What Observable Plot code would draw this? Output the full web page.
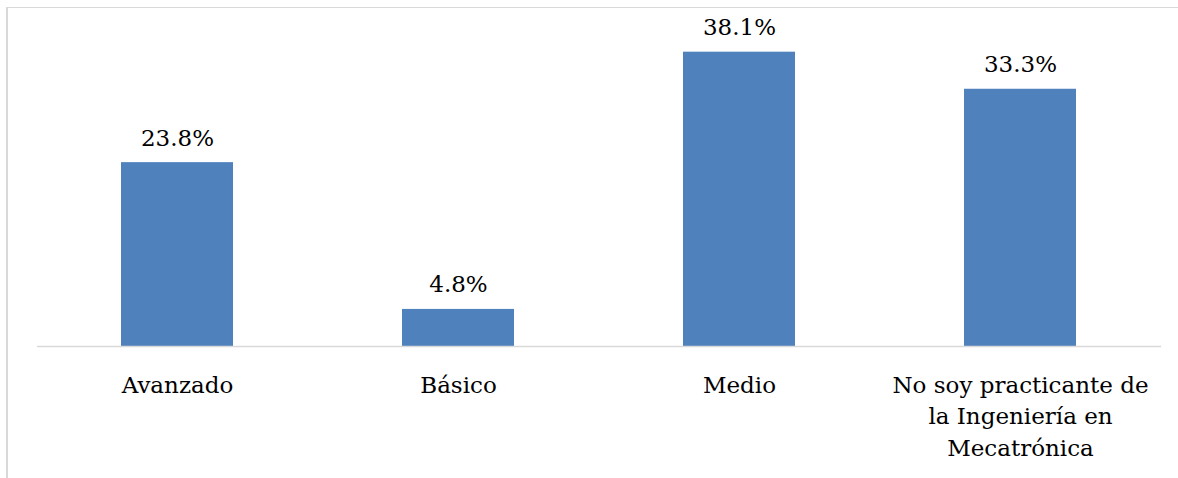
<!DOCTYPE html>
<html>
<head>
<meta charset="utf-8">
<script src="https://cdn.jsdelivr.net/npm/d3@7"></script>
<script src="https://cdn.jsdelivr.net/npm/@observablehq/plot@0.6"></script>
<style>
  html, body { margin: 0; padding: 0; background: #fff; overflow: hidden; }
  #wrap { position: relative; width: 1178px; height: 478px; }
  #frame { position: absolute; left: 6px; top: 7px; width: 1200px; height: 500px;
           border-top: 1.5px solid #d9d9d9; border-left: 2px solid #d9d9d9; box-sizing: border-box; }
  #chart { position: absolute; left: 0; top: 0; }
</style>
</head>
<body>
<div id="wrap"><div id="frame"></div><div id="chart"></div></div>
<script>
const categories = ["Avanzado", "Básico", "Medio", "No soy practicante de\nla Ingeniería en\nMecatrónica"];
const values = [23.8, 4.8, 38.1, 33.3];
const labels = ["23.8%", "4.8%", "38.1%", "33.3%"];

const data = categories.map((c, i) => ({cat: c, value: values[i], label: labels[i]}));
const font = "DejaVu Serif";

const chart = Plot.plot({
  width: 1178,
  height: 478,
  marginLeft: 37,
  marginRight: 17,
  marginTop: 37,
  marginBottom: 132,
  style: {fontFamily: font, background: "transparent", overflow: "visible"},
  x: {domain: categories, paddingInner: 0.6, paddingOuter: 0.3, axis: null},
  y: {domain: [0, 40], axis: null},
  marks: [
    Plot.barY(data, {x: "cat", y: "value", fill: "#4f81bd"}),
    Plot.ruleY([0], {stroke: "#d9d9d9", strokeWidth: 1.5}),
    Plot.text(data, {x: "cat", y: "value", text: "label", lineAnchor: "bottom", dy: -17,
                     fontSize: 23, fill: "#000", fontFamily: font}),
    Plot.text(data, {x: "cat", y: 0, text: "cat", lineAnchor: "top", dy: 24, lineHeight: 1.37,
                     fontSize: 23, fill: "#000", fontFamily: font})
  ]
});
document.getElementById("chart").appendChild(chart);
</script>
</body>
</html>
